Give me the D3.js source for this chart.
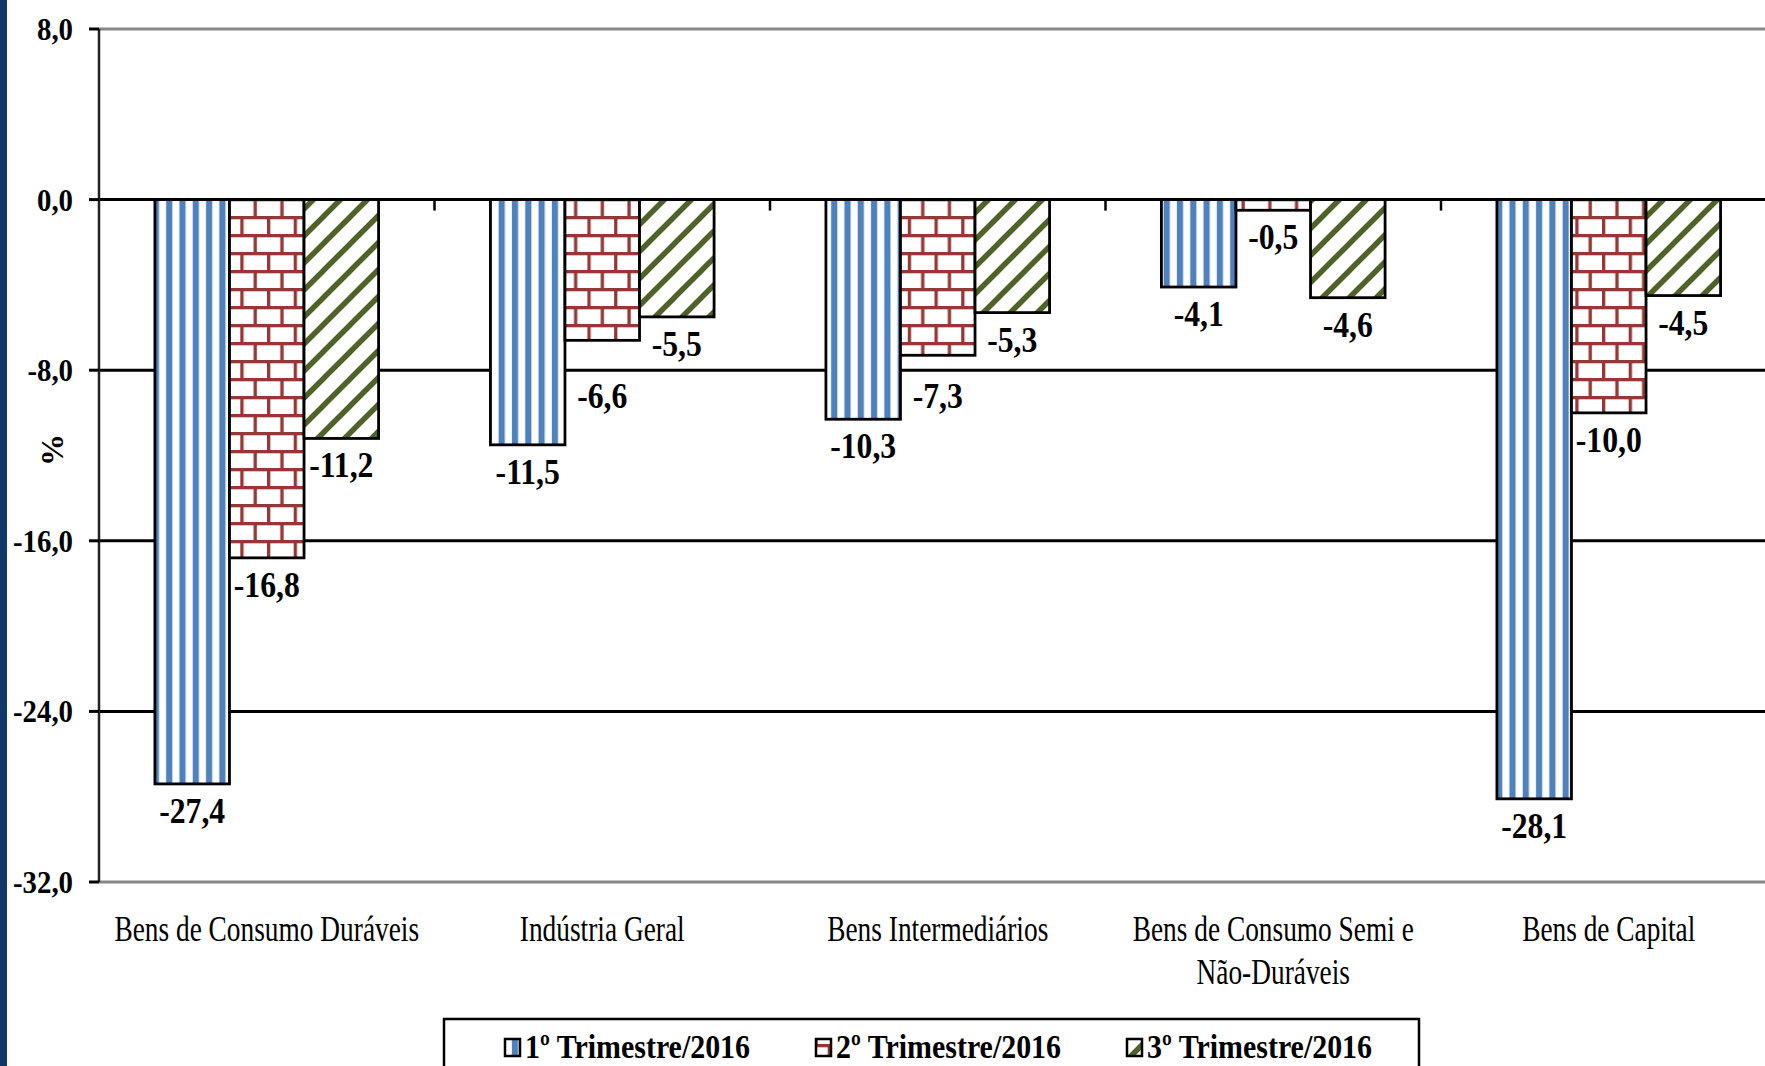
<!DOCTYPE html>
<html lang="pt">
<head>
    <meta charset="UTF-8">
    <title>Produção industrial por categoria de uso</title>
    <script src="https://d3js.org/d3.v7.min.js"></script>
    <style>
        body { margin: 0; background: #fff; }
        svg { display: block; }
        text { font-family: "Liberation Serif", "Times New Roman", serif; fill: #000; }
    </style>
</head>
<body>
    <svg width="1765" height="1066"></svg>

    <script>
        // Data
        const categories = ["Bens de Consumo Duráveis", "Indústria Geral", "Bens Intermediários",
                            "Bens de Consumo Semi e Não-Duráveis", "Bens de Capital"];
        const categoryLines = [["Bens de Consumo Duráveis"], ["Indústria Geral"], ["Bens Intermediários"],
                               ["Bens de Consumo Semi e", "Não-Duráveis"], ["Bens de Capital"]];
        const seriesNames = ["1º Trimestre/2016", "2º Trimestre/2016", "3º Trimestre/2016"];
        const q1 = [-27.4, -11.5, -10.3, -4.1, -28.1];
        const q2 = [-16.8, -6.6, -7.3, -0.5, -10.0];
        const q3 = [-11.2, -5.5, -5.3, -4.6, -4.5];
        const yTicks = [8, 0, -8, -16, -24, -32];

        const width = 1765, height = 1066;
        const fmt = v => d3.format(".1f")(v).replace(".", ",").replace("−", "-");

        const svg = d3.select("svg");
        const defs = svg.append("defs");

        // Patterns
        const pBlue = defs.append("pattern").attr("id", "pBlue")
            .attr("patternUnits", "userSpaceOnUse").attr("width", 13.3).attr("height", 10);
        pBlue.append("rect").attr("width", 13.3).attr("height", 10).attr("fill", "#fff");
        pBlue.append("rect").attr("x", 6.5).attr("width", 6.2).attr("height", 10).attr("fill", "#4f81bd");

        const pBrick = defs.append("pattern").attr("id", "pBrick")
            .attr("patternUnits", "userSpaceOnUse").attr("width", 26.7).attr("height", 36);
        pBrick.append("rect").attr("width", 26.7).attr("height", 36).attr("fill", "#fff");
        pBrick.append("rect").attr("y", 0).attr("width", 26.7).attr("height", 3.3).attr("fill", "#953735");
        pBrick.append("rect").attr("y", 18).attr("width", 26.7).attr("height", 3.3).attr("fill", "#953735");
        pBrick.append("rect").attr("x", 0).attr("y", 0).attr("width", 3.3).attr("height", 18).attr("fill", "#953735");
        pBrick.append("rect").attr("x", 13.3).attr("y", 18).attr("width", 3.3).attr("height", 18).attr("fill", "#953735");

        const pGreen = defs.append("pattern").attr("id", "pGreen")
            .attr("patternUnits", "userSpaceOnUse").attr("width", 27).attr("height", 27);
        pGreen.append("rect").attr("width", 27).attr("height", 27).attr("fill", "#fff");
        pGreen.append("path").attr("d", "M0,27 L27,0 M-6,6 L6,-6 M21,33 L33,21")
            .attr("stroke", "#4f6228").attr("stroke-width", 5.5);

        const fills = ["url(#pBlue)", "url(#pBrick)", "url(#pGreen)"];

        // Left border strip
        svg.append("rect").attr("x", 0).attr("y", 0).attr("width", 7).attr("height", height).attr("fill", "#10386b");

        // Scales
        const step = 335.5;
        const x0 = d3.scaleBand().domain(categories)
            .range([99, 99 + step * categories.length])
            .paddingInner(1 / 3).paddingOuter(1 / 6);
        const x1 = d3.scaleBand().domain(seriesNames).range([0, x0.bandwidth()]);
        const y = d3.scaleLinear().domain([-32, 8]).range([882, 29]);

        // helper for condensed text
        function place(sel, x, yy, sx) {
            return sel.attr("transform", `translate(${x},${yy}) scale(${sx},1)`);
        }

        // Gridlines
        svg.append("g").selectAll("line").data(yTicks).join("line")
            .attr("x1", 99).attr("x2", width)
            .attr("y1", d => y(d)).attr("y2", d => y(d))
            .attr("stroke", d => (d === 8 || d === -32) ? "#878787" : "#000")
            .attr("stroke-width", 3);

        // Y axis
        svg.append("line").attr("x1", 99).attr("x2", 99).attr("y1", y(8)).attr("y2", y(-32))
            .attr("stroke", "#222").attr("stroke-width", 2.5);
        svg.append("g").selectAll("line").data(yTicks).join("line")
            .attr("x1", 89).attr("x2", 99).attr("y1", d => y(d)).attr("y2", d => y(d))
            .attr("stroke", "#000").attr("stroke-width", 3);
        svg.append("g").selectAll("text").data(yTicks).join("text")
            .each(function (d) { place(d3.select(this), 73, y(d) + 11, 0.9); })
            .attr("text-anchor", "end")
            .style("font-size", "32px").style("font-weight", "bold")
            .text(d => fmt(d));

        // Category ticks on the zero line
        const boundaries = d3.range(1, categories.length + 1).map(i => 99 + i * step);
        svg.append("g").selectAll("line").data(boundaries).join("line")
            .attr("x1", d => d).attr("x2", d => d)
            .attr("y1", y(0)).attr("y2", y(0) + 11)
            .attr("stroke", "#000").attr("stroke-width", 2.5);

        // Bars
        const seriesData = [q1, q2, q3];
        const bars = [];
        categories.forEach((c, i) => {
            seriesData.forEach((s, k) => bars.push({ cat: c, k: k, v: s[i] }));
        });

        svg.append("g").selectAll("rect").data(bars).join("rect")
            .attr("x", d => x0(d.cat) + x1(seriesNames[d.k]))
            .attr("y", d => y(Math.max(0, d.v)))
            .attr("width", x1.bandwidth())
            .attr("height", d => Math.abs(y(d.v) - y(0)))
            .attr("fill", d => fills[d.k])
            .attr("stroke", "#000").attr("stroke-width", 2.8);

        // Value labels, pushed below a gridline when they would sit on it
        const gridYs = yTicks.filter(t => t < 0 && t > -32).map(t => y(t));
        svg.append("g").selectAll("text").data(bars).join("text")
            .each(function (d) {
                let base = y(d.v) + 39;
                gridYs.forEach(g => {
                    if (g >= base - 32 && g <= base + 4) base = g + 38;
                });
                place(d3.select(this), x0(d.cat) + x1(seriesNames[d.k]) + x1.bandwidth() / 2, base, 0.88);
            })
            .attr("text-anchor", "middle")
            .style("font-size", "36px").style("font-weight", "bold")
            .text(d => fmt(d.v));

        // Category labels
        const catG = svg.append("g");
        categories.forEach((c, i) => {
            categoryLines[i].forEach((line, j) => {
                place(catG.append("text"), x0(c) + x0.bandwidth() / 2, 941 + j * 43, 0.76)
                    .attr("text-anchor", "middle")
                    .style("font-size", "36px")
                    .text(line);
            });
        });

        // Y axis title
        svg.append("text")
            .attr("transform", "translate(63,450) rotate(-90)")
            .attr("text-anchor", "middle")
            .style("font-size", "32px").style("font-weight", "bold")
            .text("%");

        // Legend
        const legend = svg.append("g");
        legend.append("rect").attr("x", 444).attr("y", 1019).attr("width", 975).attr("height", 70)
            .attr("fill", "#fff").attr("stroke", "#000").attr("stroke-width", 2.5);
        seriesNames.forEach((name, k) => {
            const lx = 505 + k * 311;
            legend.append("rect").attr("x", lx).attr("y", 1039).attr("width", 15).attr("height", 17)
                .attr("fill", fills[k]).attr("stroke", "#000").attr("stroke-width", 2.5);
            place(legend.append("text"), lx + 20, 1058, 0.88)
                .style("font-size", "34px").style("font-weight", "bold")
                .text(name);
        });
    </script>
</body>
</html>
